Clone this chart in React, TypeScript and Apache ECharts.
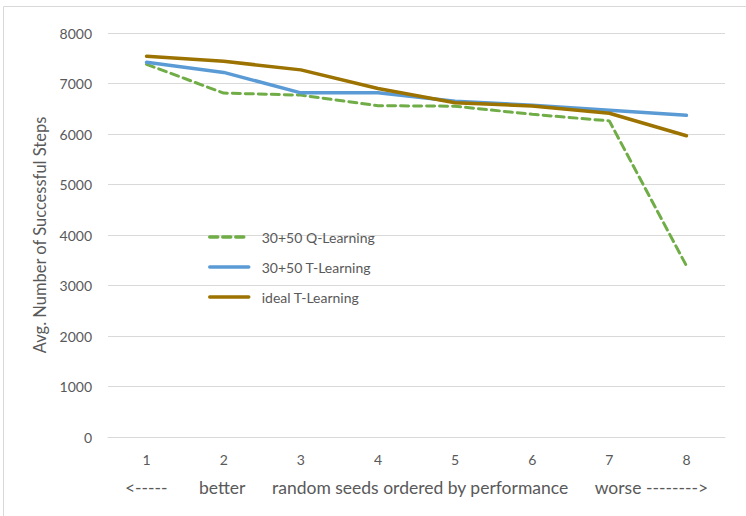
import React, { useEffect, useRef } from "react";
import * as echarts from "echarts";

const seeds = ["1", "2", "3", "4", "5", "6", "7", "8"];
const qLearning = [7380, 6810, 6770, 6560, 6550, 6390, 6260, 3390];
const tLearning = [7420, 7220, 6815, 6815, 6650, 6570, 6470, 6370];
const idealT = [7540, 7440, 7270, 6900, 6620, 6555, 6410, 5965];
const yTicks = [0, 1000, 2000, 3000, 4000, 5000, 6000, 7000, 8000];

const FONT = "Lato, 'Open Sans', sans-serif";
const GRAY = "#595959";

export default function App() {
  const ref = useRef<HTMLDivElement>(null);

  useEffect(() => {
    if (!ref.current) return;
    const chart = echarts.init(ref.current, undefined, { renderer: "svg" });
    chart.setOption({
      animation: false,
      backgroundColor: "#ffffff",
      textStyle: { fontFamily: FONT },
      graphic: [
        {
          type: "rect",
          shape: { x: 3.5, y: 6.5, width: 760, height: 560 },
          style: { fill: "none", stroke: "#d9d9d9", lineWidth: 1 },
          silent: true,
        },
      ],
      grid: { left: 108, right: 21, top: 33, bottom: 79, containLabel: false },
      legend: {
        orient: "vertical",
        left: 208,
        top: 230,
        padding: 0,
        itemWidth: 39,
        itemHeight: 14,
        itemGap: 16,
        itemStyle: { opacity: 0 },
        lineStyle: { width: 3.5 },
        textStyle: { color: GRAY, fontSize: 14, fontFamily: FONT, padding: [0, 0, 0, 8] },
        data: ["30+50 Q-Learning", "30+50 T-Learning", "ideal T-Learning"],
      },
      xAxis: {
        type: "category",
        data: seeds,
        boundaryGap: true,
        axisLine: { show: true, lineStyle: { color: "#d9d9d9", width: 1 } },
        axisTick: { show: false },
        axisLabel: { color: GRAY, fontSize: 14, margin: 15, fontFamily: FONT },
        name: "<-----       better      random seeds ordered by performance      worse -------->",
        nameLocation: "middle",
        nameGap: 41,
        nameTextStyle: { color: GRAY, fontSize: 17.5, fontFamily: FONT },
      },
      yAxis: {
        type: "value",
        min: yTicks[0],
        max: yTicks[yTicks.length - 1],
        interval: 1000,
        axisLine: { show: false },
        axisTick: { show: false },
        splitLine: { lineStyle: { color: "#d9d9d9", width: 1 } },
        axisLabel: {
          color: GRAY,
          fontSize: 14,
          margin: 16,
          fontFamily: FONT,
          formatter: (v: number) => String(v),
        },
        name: "Avg. Number of Successful Steps",
        nameLocation: "middle",
        nameGap: 53,
        nameTextStyle: { color: GRAY, fontSize: 16.5, fontFamily: FONT },
      },
      series: [
        {
          name: "30+50 Q-Learning",
          type: "line",
          data: qLearning,
          symbol: "none",
          itemStyle: { color: "#70AD47" },
          lineStyle: { color: "#70AD47", width: 3, type: [8, 5], cap: "round" },
          z: 2,
        },
        {
          name: "30+50 T-Learning",
          type: "line",
          data: tLearning,
          symbol: "none",
          itemStyle: { color: "#5B9BD5" },
          lineStyle: { color: "#5B9BD5", width: 3.5, cap: "round" },
          z: 3,
        },
        {
          name: "ideal T-Learning",
          type: "line",
          data: idealT,
          symbol: "none",
          itemStyle: { color: "#9C7200" },
          lineStyle: { color: "#9C7200", width: 3.5, cap: "round" },
          z: 4,
        },
      ],
    });
    return () => chart.dispose();
  }, []);

  return (
    <div
      ref={ref}
      style={{ position: "fixed", left: 0, top: 0, width: 746, height: 516 }}
    />
  );
}
